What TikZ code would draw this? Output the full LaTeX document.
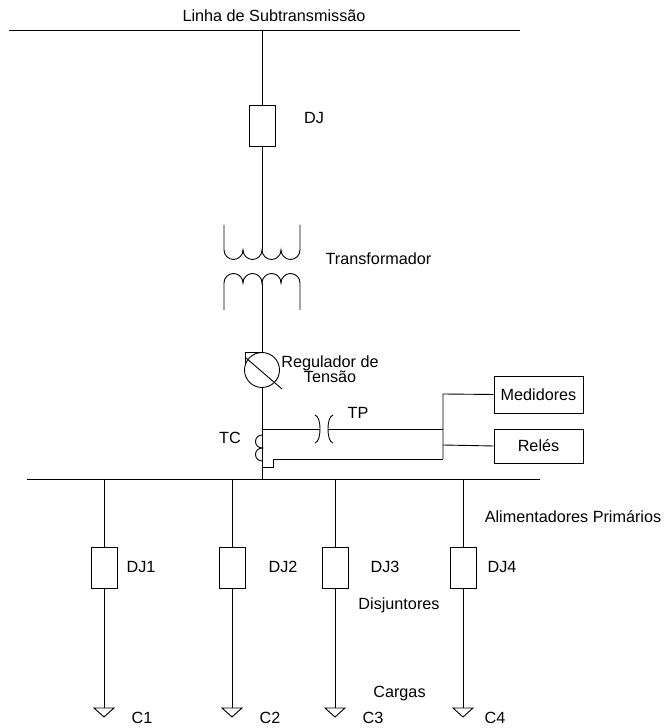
\documentclass[tikz,border=0pt]{standalone}
\usepackage{fontspec}
\setmainfont{Liberation Sans}
\usetikzlibrary{positioning}

\begin{document}
\begin{tikzpicture}[x=1pt, y=1pt, line width=0.9pt,
    disj/.style={draw, minimum width=26pt, minimum height=41pt, inner sep=0pt},
    caixa/.style={draw, minimum width=89pt, inner sep=0pt},
    every node/.append style={font=\fontsize{16.2}{15}\selectfont}]
    \useasboundingbox (0,0) rectangle (666,728);
        % linha de subtransmissao
        \draw (9,698) -- (520,698);
        \node (lst) at (274,712) {Linha de Subtransmissão};
        \coordinate (topo) at (262,698);
        \node[disj] (dj) at (262,602.5) {};
        \node (djtxt) at (314,610) {DJ};
        \draw (topo) -- (dj.north);
        % transformador
        \coordinate (tsup) at (262,478);
        \coordinate (tinf) at (262,445);
        \draw (dj.south) -- (tsup);
        \draw (224,503) -- (224,478) arc[start angle=180, end angle=360, radius=9.5]
            arc[start angle=180, end angle=360, radius=9.5]
            arc[start angle=180, end angle=360, radius=9.5]
            arc[start angle=180, end angle=360, radius=9.5] -- (300,503);
        \draw (224,418) -- (224,445) arc[start angle=180, end angle=0, radius=9.5]
            arc[start angle=180, end angle=0, radius=9.5]
            arc[start angle=180, end angle=0, radius=9.5]
            arc[start angle=180, end angle=0, radius=9.5] -- (300,418);
        \node (trafo) at (378.5,469) {Transformador};
        % regulador
        \node[circle, draw, minimum size=35pt, inner sep=0pt] (reg) at (262,358) {};
        \draw (tinf) -- (reg.north);
        \draw (260,376) -- (245,376) -- (245,365);
        \draw (246,370) -- (282,339);
        \node[align=center] (regtxt) at (330,358.5) {Regulador de\\Tensão};
        % barramento
        \coordinate (bmain) at (262,249);
        \draw (reg.south) -- (bmain);
        \draw (27,249) -- (540,249);
        \node (alim) at (573,211) {Alimentadores Primários};
        % TP e TC
        \coordinate (tpa) at (320,299);
        \coordinate (tpb) at (328,299);
        \coordinate (jtp) at (443,299);
        \draw (262,299) -- (tpa);
        \draw (315,313) .. controls (319,312) and (320,304) .. (tpa)
            .. controls (320,294) and (319,286) .. (315,285);
        \draw (333,313) .. controls (329,312) and (328,304) .. (tpb)
            .. controls (328,294) and (329,286) .. (333,285);
        \draw (tpb) -- (jtp);
        \node (tp) at (358,315) {TP};
        \draw (262,293) arc[start angle=90, end angle=270, radius=6.5]
            arc[start angle=90, end angle=270, radius=6.5];
        \node (tc) at (230,290) {TC};
        \coordinate (jtc) at (443,269);
        \draw (262,261) -- (273,261) -- (273,269) -- (jtc);
        % medidores e reles
        \node[caixa, minimum height=37pt] (med) at (538.5,333.5) {Medidores};
        \node[caixa, minimum height=34pt] (rel) at (538.5,282) {Relés};
        \draw (jtc) -- (443,334) -- (med.west);
        \draw (443,283) -- (rel.west);
        % alimentadores
        \foreach \x/\n/\lx/\cx in {104/1/141/142, 232/2/283/270, 335/3/385/373, 463/4/502/495} {
            \node[disj] (dj\n) at (\x,160) {};
            \node (djl\n) at (\lx,161) {DJ\n};
            \coordinate (c\n) at (\x,20);
            \draw (\x,249) -- (dj\n.north);
            \draw (dj\n.south) -- (c\n);
            \draw (\x-10,20) -- (\x+10,20) -- (\x,11) -- cycle;
            \node (cl\n) at (\cx,10) {C\n};
        }
        \node (disj) at (399,123) {Disjuntores};
        \node (carg) at (399.5,34) {Cargas};
\end{tikzpicture}
\end{document}
